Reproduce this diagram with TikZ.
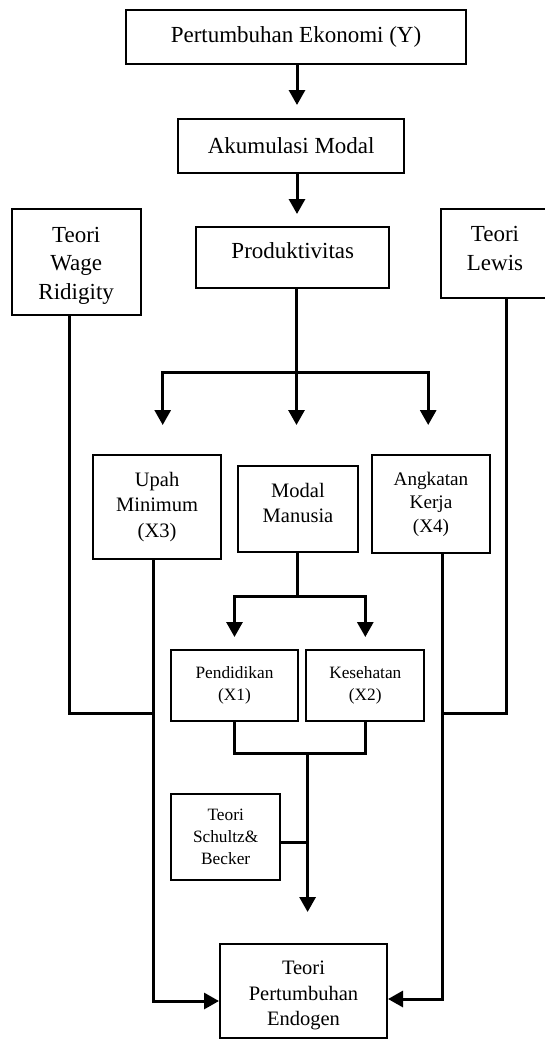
\documentclass[tikz,border=0pt]{standalone}
\usepackage{fontspec}
\setmainfont{Liberation Serif}
\usetikzlibrary{arrows.meta}
\newcommand\mlines[2]{\raisebox{#1}[\height][\depth]{\begin{tabular}{@{}c@{}}#2\end{tabular}}}
\tikzset{
  box/.style={draw, line width=2pt, inner sep=0pt, align=center, anchor=center},
  fbig/.style={font=\fontsize{23}{28.5}\selectfont},
  fmid/.style={font=\fontsize{20.5}{25.5}\selectfont},
  fang/.style={font=\fontsize{19.2}{23.5}\selectfont},
  fsml/.style={font=\fontsize{17.3}{22}\selectfont},
  conn/.style={line width=3pt},
  arr/.style={line width=3pt, -{Triangle[length=15pt,width=16pt]}},
}
\begin{document}
\begin{tikzpicture}[x=1pt,y=-1pt]
\useasboundingbox (0,0) rectangle (545,1039);
% boxes
\node[box,fbig,minimum width=339.5pt,minimum height=54pt] (top) at (296,37) {Pertumbuhan Ekonomi (Y)};
\node[box,fbig,minimum width=226pt,minimum height=54pt] (akum) at (291.2,146) {Akumulasi Modal};
\node[box,fbig,minimum width=193pt,minimum height=61pt] (prod) at (292.8,257.5) {\raisebox{14pt}{Produktivitas}};
\node[box,fbig,minimum width=129.3pt,minimum height=106pt] (wage) at (76.2,262) {\mlines{-3pt}{Teori\\Wage\\Ridigity}};
\node[box,fbig,minimum width=108pt,minimum height=89pt] (lewis) at (495,253.5) {\mlines{3pt}{Teori\\Lewis}};
\node[box,fmid,minimum width=128.6pt,minimum height=104pt] (upah) at (157.1,507) {Upah\\Minimum\\(X3)};
\node[box,fmid,minimum width=120pt,minimum height=86pt] (modal) at (298,509) {\mlines{4pt}{Modal\\Manusia}};
\node[box,fang,minimum width=118pt,minimum height=98pt] (angk) at (431,504) {Angkatan\\Kerja\\(X4)};
\node[box,fsml,minimum width=127pt,minimum height=71pt] (pend) at (234.5,685.5) {Pendidikan\\(X1)};
\node[box,fsml,minimum width=118pt,minimum height=71pt] (kes) at (365.3,685.5) {Kesehatan\\(X2)};
\node[box,fsml,minimum width=109.5pt,minimum height=86pt] (schultz) at (225.7,837) {Teori\\Schultz\&\\Becker};
\node[box,fmid,minimum width=167pt,minimum height=94pt] (endo) at (303.5,991) {\mlines{-4pt}{Teori\\Pertumbuhan\\Endogen}};
% coordinates
\coordinate (ax) at (297,0);
\coordinate (brc) at (296.5,372);
\coordinate (tipL) at (162.7,425);
\coordinate (tipM) at (296.5,425);
\coordinate (tipR) at (428.2,425);
\coordinate (mb) at (297,596);
\coordinate (jc) at (307.6,753);
\coordinate (tipE) at (307.6,912);
\coordinate (wl) at (69.5,713);
\coordinate (ll) at (506.4,713);
\coordinate (ua) at (153.3,1001);
\coordinate (aa) at (442.1,999);
% connectors
\draw[arr] (top.south -| ax) -- ([yshift=13pt]akum.north -| ax);
\draw[arr] (akum.south -| ax) -- ([yshift=12pt]prod.north -| ax);
\draw[arr] (prod.south -| brc) -- (tipM);
\draw[arr] (brc) -| (tipL);
\draw[arr] (brc) -| (tipR);
\draw[conn] (modal.south -| mb) -- (mb);
\draw[arr] (mb) -| ([yshift=12pt]pend.north);
\draw[arr] (mb) -| ([yshift=12pt]kes.north);
\draw[conn] (pend.south) |- (jc) -| (kes.south);
\draw[arr] (jc) -- (tipE);
\draw[conn] ([yshift=-5pt]schultz.east) -- ([yshift=-5pt]schultz.east -| jc);
\draw[conn] (wage.south -| wl) |- (ua |- wl);
\draw[conn] (lewis.south -| ll) |- (aa |- ll);
\draw[arr] (upah.south -| ua) -- (ua) -- (ua -| endo.west);
\draw[arr] (angk.south -| aa) -- (aa) -- (aa -| endo.east);
\end{tikzpicture}
\end{document}
